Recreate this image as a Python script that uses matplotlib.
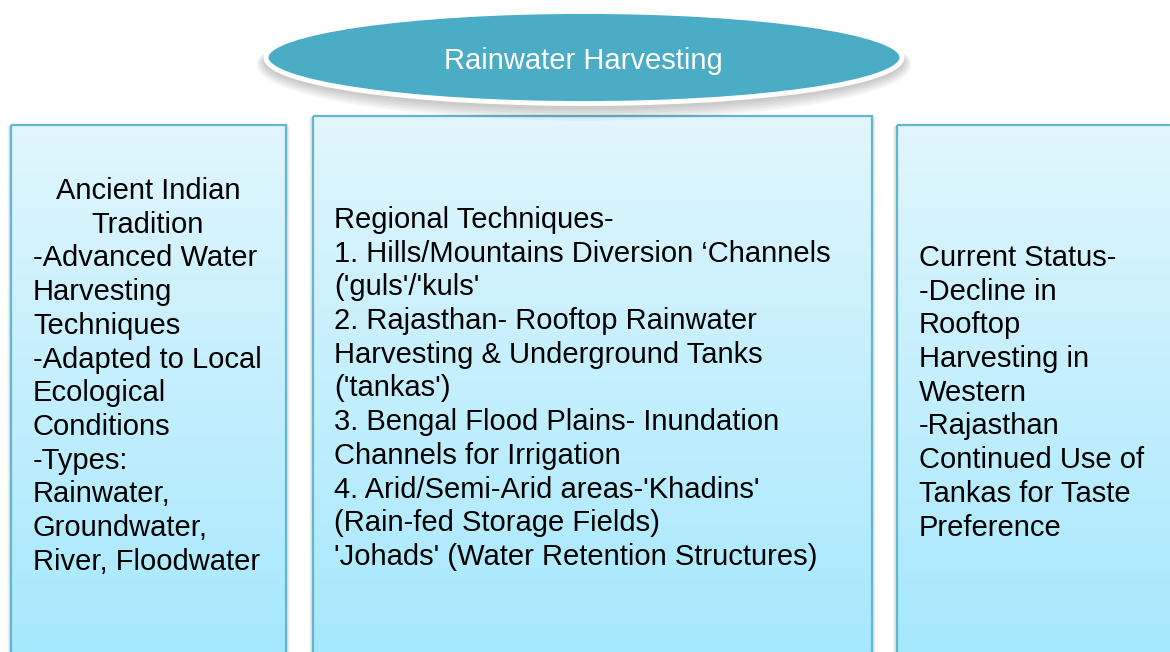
from matplotlib import pyplot as plt
from matplotlib.patches import Rectangle, Ellipse
from matplotlib.colors import LinearSegmentedColormap
import numpy as np


W, H = 1170, 652
DPI = 100

TITLE = "Rainwater Harvesting"

LEFT_HEAD = ["Ancient Indian", "Tradition"]
LEFT_BODY = [
    "-Advanced Water",
    "Harvesting",
    "Techniques",
    "-Adapted to Local",
    "Ecological",
    "Conditions",
    "-Types:",
    "Rainwater,",
    "Groundwater,",
    "River, Floodwater",
]
MIDDLE_BODY = [
    "Regional Techniques-",
    "1. Hills/Mountains Diversion \u2018Channels",
    "('guls'/'kuls'",
    "2. Rajasthan- Rooftop Rainwater",
    "Harvesting & Underground Tanks",
    "('tankas')",
    "3. Bengal Flood Plains- Inundation",
    "Channels for Irrigation",
    "4. Arid/Semi-Arid areas-'Khadins'",
    "(Rain-fed Storage Fields)",
    "'Johads' (Water Retention Structures)",
]
RIGHT_BODY = [
    "Current Status-",
    "-Decline in",
    "Rooftop",
    "Harvesting in",
    "Western",
    "-Rajasthan",
    "Continued Use of",
    "Tankas for Taste",
    "Preference",
]

FONT = "Liberation Sans"
FS = 21
LINE_PX = 33.7

box_cmap = LinearSegmentedColormap.from_list("box", ["#E1F6FC", "#A6E8FE"])
gradient = np.linspace(0, 1, 256).reshape(-1, 1)


def draw_box(ax, x0, y0, x1, y1):
    # faint shadow around the box
    for i, a in enumerate([0.05, 0.04, 0.03]):
        ax.add_patch(Rectangle((x0 - 2 - i, y0 + 1), x1 - x0 + 4 + 2 * i, y1 - y0,
                               facecolor="#000000", alpha=a, edgecolor="none", zorder=1))
    rect = Rectangle((x0, y0), x1 - x0, y1 - y0, facecolor="none",
                     edgecolor="#62B7CE", linewidth=1.6, zorder=3)
    ax.add_patch(rect)
    im = ax.imshow(gradient, cmap=box_cmap, extent=(x0, x1, 652, y0),
                   aspect="auto", zorder=2, interpolation="bilinear")
    im.set_clip_path(rect)


fig = plt.figure(figsize=(W / DPI, H / DPI), dpi=DPI)
ax = fig.add_axes([0, 0, 1, 1])
ax.set_xlim(0, W)
ax.set_ylim(H, 0)
ax.axis("off")

draw_box(ax, 11, 125, 286, 700)
draw_box(ax, 313, 116, 872, 700)
draw_box(ax, 897, 125, 1200, 700)

# title ellipse with white rim and soft shadow
for i in range(6):
    ax.add_patch(Ellipse((584, 61 + i * 0.8), 640 + i * 3, 96 + i * 3,
                         facecolor="#000000", alpha=0.035, edgecolor="none", zorder=4))
ax.add_patch(Ellipse((584, 57.5), 636, 92, facecolor="#4BACC6",
                     edgecolor="white", linewidth=3.5, zorder=5))
ax.text(583, 61, TITLE, ha="center", va="center", color="white",
        fontsize=21, family=FONT, zorder=6)

# left box
for k, line in enumerate(LEFT_HEAD):
    ax.text(148, 191 + k * LINE_PX, line, ha="center", va="center",
            fontsize=FS, family=FONT, zorder=6)
for k, line in enumerate(LEFT_BODY):
    ax.text(33, 191 + (k + 2) * LINE_PX, line, ha="left", va="center",
            fontsize=FS, family=FONT, zorder=6)

# middle box
for k, line in enumerate(MIDDLE_BODY):
    ax.text(334, 220 + k * LINE_PX, line, ha="left", va="center",
            fontsize=FS, family=FONT, zorder=6)

# right box
for k, line in enumerate(RIGHT_BODY):
    ax.text(919, 258 + k * LINE_PX, line, ha="left", va="center",
            fontsize=FS, family=FONT, zorder=6)

fig.savefig("out.png", dpi=DPI)
